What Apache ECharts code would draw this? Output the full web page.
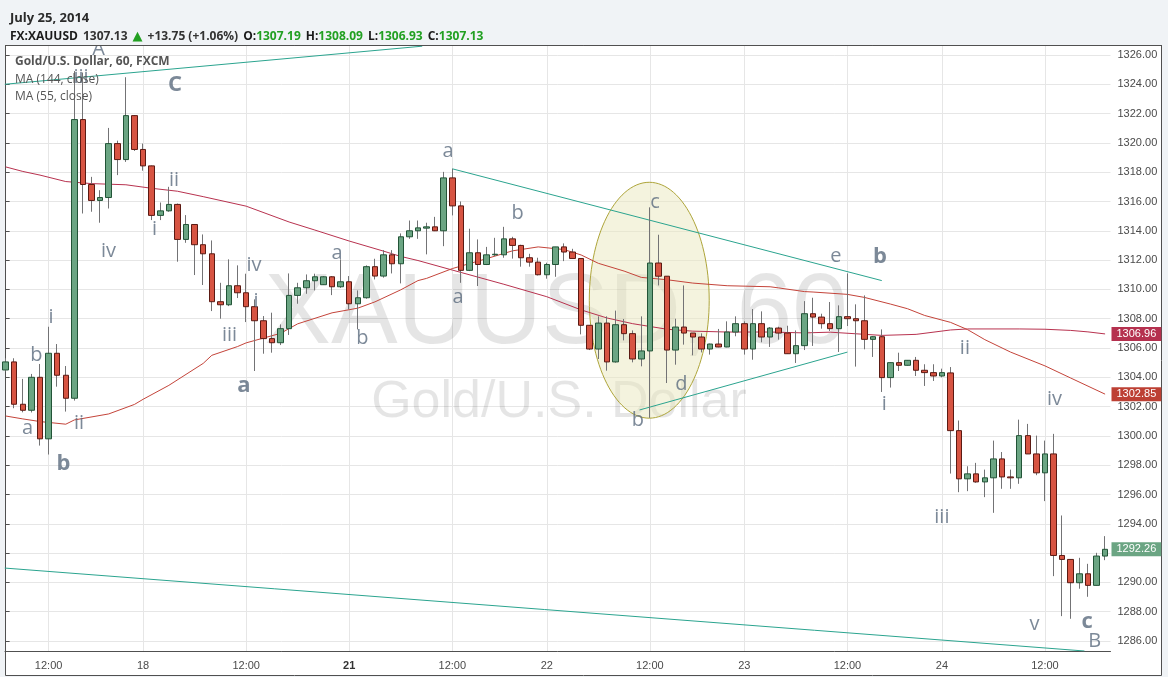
<!DOCTYPE html>
<html><head><meta charset="utf-8">
<script src="https://cdn.jsdelivr.net/npm/echarts@6/dist/echarts.min.js"></script>
<style>html,body{margin:0;padding:0;background:#f0f3f6;}#chart{width:1168px;height:677px;}</style>
</head><body><div id="chart"></div>
<script>
// ---- data (hourly candles, index 0..128) ----
const opens = [1304.50,1305.05,1302.16,1301.75,1304.00,1299.80,1305.64,1304.14,1302.57,1321.59,
1317.16,1316.07,1316.27,1319.95,1318.86,1321.86,1319.55,1318.43,1315.05,1315.36,
1315.80,1313.41,1314.43,1313.05,1312.43,1309.16,1308.95,1310.25,1309.77,1308.82,
1307.86,1306.64,1306.36,1307.32,1309.59,1310.11,1310.59,1310.32,1310.86,1310.18,
1310.52,1309.02,1309.43,1311.55,1310.91,1312.36,1311.75,1313.59,1314.00,1314.18,
1314.27,1314.00,1317.61,1315.70,1311.30,1312.50,1311.70,1312.36,1312.36,1313.45,
1313.00,1312.16,1311.86,1311.00,1311.70,1312.90,1312.55,1312.11,1307.55,1305.93,
1307.70,1305.05,1307.59,1306.98,1305.25,1305.80,1311.80,1310.90,1305.86,1307.43,
1307.02,1306.75,1305.93,1306.27,1306.07,1307.09,1307.66,1305.93,1307.66,1306.75,
1307.36,1307.02,1305.61,1306.16,1308.34,1308.11,1307.66,1307.32,1308.14,1308.00,
1307.86,1306.59,1306.77,1303.98,1305.00,1304.82,1305.16,1304.48,1304.32,1304.09,
1304.30,1300.36,1297.07,1297.41,1296.86,1297.14,1298.43,1297.20,1297.14,1300.02,
1298.77,1297.48,1298.77,1291.84,1291.57,1289.98,1290.59,1289.80,1291.80];
const closes = [1305.05,1302.16,1301.75,1304.00,1299.80,1305.64,1304.14,1302.57,1321.59,1317.16,
1316.07,1316.27,1319.95,1318.86,1321.86,1319.55,1318.43,1315.05,1315.36,1315.80,
1313.41,1314.43,1313.05,1312.43,1309.16,1308.95,1310.25,1309.77,1308.82,1307.86,
1306.64,1306.36,1307.32,1309.59,1310.11,1310.59,1310.86,1310.86,1310.18,1310.52,
1309.02,1309.43,1311.55,1310.91,1312.36,1311.75,1313.59,1314.00,1314.20,1314.27,
1314.00,1317.61,1315.70,1311.30,1312.50,1311.70,1312.36,1312.40,1313.45,1313.00,
1312.16,1311.86,1311.00,1311.70,1312.90,1312.55,1312.11,1307.55,1305.93,1307.70,
1305.05,1307.59,1306.98,1305.25,1305.80,1311.80,1310.90,1305.86,1307.43,1307.02,
1306.75,1305.93,1306.27,1306.07,1307.09,1307.66,1305.93,1307.66,1306.75,1307.36,
1307.02,1305.61,1306.16,1308.34,1308.11,1307.66,1307.32,1308.14,1308.00,1307.86,
1306.59,1306.77,1303.98,1305.00,1304.82,1305.16,1304.48,1304.32,1304.09,1304.32,
1300.36,1297.07,1297.41,1296.86,1297.14,1298.43,1297.20,1297.14,1300.02,1298.77,
1297.48,1298.77,1291.84,1291.57,1289.98,1290.59,1289.80,1291.80,1292.26];
const lows = [1304.40,1301.89,1301.61,1301.60,1299.34,1298.73,1303.36,1301.66,1302.41,1315.18,
1315.30,1314.55,1315.52,1317.80,1318.70,1319.45,1318.10,1314.73,1314.73,1315.30,
1311.89,1313.18,1310.98,1310.30,1308.52,1308.00,1308.86,1309.41,1307.77,1304.43,
1305.61,1305.68,1306.20,1306.89,1309.02,1309.70,1309.93,1310.30,1309.61,1310.10,
1308.64,1307.27,1309.36,1310.68,1310.80,1311.09,1310.41,1313.45,1313.45,1312.39,
1313.98,1312.95,1315.05,1310.45,1311.25,1310.23,1311.66,1312.27,1312.16,1312.10,
1311.55,1311.55,1310.95,1310.73,1310.86,1311.93,1312.11,1306.93,1305.86,1305.25,
1304.45,1305.00,1306.52,1305.02,1304.75,1301.23,1310.27,1303.61,1304.86,1306.23,
1305.50,1305.70,1305.55,1306.05,1306.05,1306.80,1305.55,1305.20,1306.39,1306.07,
1306.57,1305.61,1304.98,1305.86,1306.14,1307.32,1307.16,1305.73,1307.50,1304.73,
1305.91,1305.39,1303.00,1303.30,1304.43,1304.80,1304.09,1303.41,1303.75,1304.00,
1297.43,1296.16,1296.23,1296.80,1295.82,1294.75,1296.39,1296.39,1296.73,1298.77,
1297.32,1295.55,1290.43,1287.70,1287.52,1289.57,1289.02,1289.80,1291.52];
const highs = [1305.30,1305.30,1303.89,1304.23,1304.91,1307.45,1306.27,1304.77,1324.90,1324.80,
1317.68,1316.77,1321.02,1320.15,1324.48,1321.90,1319.95,1318.45,1315.93,1317.00,
1315.86,1315.07,1314.45,1313.75,1313.34,1310.45,1312.05,1311.64,1311.07,1309.32,
1308.18,1308.41,1307.61,1311.09,1310.45,1311.02,1311.07,1310.90,1310.90,1312.05,
1310.91,1309.93,1311.64,1312.09,1312.68,1312.68,1313.82,1314.70,1314.70,1314.55,
1314.95,1318.02,1318.23,1316.00,1314.14,1313.41,1312.90,1313.52,1314.27,1313.59,
1313.05,1312.43,1312.16,1311.82,1312.90,1313.14,1312.77,1312.11,1307.55,1308.16,
1308.16,1308.55,1307.98,1307.20,1308.16,1315.60,1313.73,1310.90,1308.00,1310.27,
1307.02,1307.00,1306.30,1307.30,1307.82,1308.16,1307.82,1308.66,1308.50,1307.43,
1307.45,1307.52,1307.20,1309.20,1309.43,1308.34,1309.14,1308.91,1311.09,1308.98,
1309.59,1306.80,1307.27,1305.02,1305.68,1305.18,1305.39,1304.89,1304.89,1304.59,
1304.70,1301.05,1297.93,1298.16,1297.70,1299.68,1298.90,1297.70,1301.11,1300.82,
1300.02,1299.68,1300.14,1294.57,1291.57,1291.68,1291.27,1292.02,1293.16];

// moving averages: [candle index, value]
const ma144 = [[0,1318.36],[2,1318.05],[4,1317.80],[7,1317.36],[10,1317.22],[14,1317.14],[17,1316.90],[20,1316.70],[23,1316.33],
[28,1315.68],[33,1314.60],[36,1314.05],[40,1313.30],[44,1312.61],[46,1312.25],[48,1311.97],[52,1311.32],[58,1310.35],
[63,1309.50],[67,1308.60],[70,1308.05],[73,1307.66],[77,1307.28],[80,1307.15],[84,1307.09],[89,1307.09],[93,1307.03],
[96,1307.08],[102,1306.86],[106,1306.93],[110,1307.23],[112,1307.30],[118,1307.30],[121,1307.28],[124,1307.20],[126,1307.10],[128,1306.96]];
const ma55 = [[0,1301.36],[2,1301.16],[4,1300.98],[7,1300.80],[8,1301.09],[12,1301.50],[15,1302.15],[16,1302.50],[19,1303.45],
[23,1304.95],[24,1305.50],[27,1306.10],[28,1306.35],[32,1307.00],[34,1307.65],[38,1308.40],[41,1308.72],[43,1309.15],[46,1309.97],
[48,1310.60],[49,1310.75],[52,1311.42],[56,1312.10],[59,1312.63],[62,1312.90],[65,1312.72],[67,1312.35],[69,1311.78],[72,1311.25],
[74,1310.82],[77,1310.66],[80,1310.43],[84,1310.25],[89,1310.18],[90,1310.10],[93,1309.85],[94,1309.82],[98,1309.66],[100,1309.45],
[103,1309.00],[105,1308.68],[107,1308.22],[110,1307.75],[112,1307.25],[114,1306.57],[117,1305.72],[121,1304.78],[124,1303.95],[128,1302.85]];

// axis ticks
const timeTickIdx = [5,16,28,40,52,63,75,86,98,109,121];
const timeTickLabels = ['12:00','18','12:00','21','12:00','22','12:00','23','12:00','24','12:00'];
const priceTicks = [1286,1288,1290,1292,1294,1296,1298,1300,1302,1304,1306,1308,1310,1312,1314,1316,1318,1320,1322,1324,1326];

// drawn annotations (data coordinates: candle index, price)
const trendTop = [[-0.1,1324.00],[48.5,1326.60]];
const trendBottom = [[-0.1,1290.98],[125.6,1285.32]];
const trendUpper = [[52,1318.23],[102,1310.60]];
const trendLower = [[73.8,1301.77],[98,1305.72]];
const ellipseZone = [74.93,1309.26,6.98,8.05]; // centre index, centre price, radius (candles), radius (price)
const waveLabels = [[10.81,1326.41,'A'],[8.77,1324.5,'iii'],[19.6,1317.43,'ii'],[17.33,1314.09,'i'],[11.97,1312.59,'iv'],
[5.28,1308.08,'i'],[3.59,1305.52,'b'],[2.54,1300.54,'a'],[8.54,1300.88,'ii'],[28.91,1311.67,'iv'],[29.15,1309.21,'i'],
[26.06,1306.89,'iii'],[38.57,1312.45,'a'],[41.54,1306.65,'b'],[51.5,1319.41,'a'],[59.6,1315.18,'b'],[52.66,1309.45,'a'],
[75.6,1315.93,'c'],[78.68,1303.51,'d'],[73.61,1301.05,'b'],[96.67,1312.25,'e'],[102.3,1302.18,'i'],[111.68,1306.0,'ii'],
[109.0,1294.43,'iii'],[122.1,1302.48,'iv'],[119.77,1287.16,'v'],[126.8,1285.97,'B']];
const waveLabelsBold = [[19.72,1323.99,'C'],[6.73,1298.08,'b'],[27.75,1303.44,'a'],[101.8,1312.25,'b'],[125.9,1287.33,'c']];

// header quote
const quoteDate = 'July 25, 2014';
const quoteSymbol = 'FX:XAUUSD';
const quoteLast = '1307.13';
const quoteChange = '+13.75 (+1.06%)';
const quoteOHLC = [['O:','1307.19'],['H:','1308.09'],['L:','1306.93'],['C:','1307.13']];

// ---- build ----
const UP = '#6ba583', DOWN = '#d75442';
const wickData = opens.map((o,i)=>[i,o,closes[i],lows[i],highs[i]]);
const bodyData = opens.map((o,i)=>[i,o,closes[i],Math.min(o,closes[i]),Math.max(o,closes[i])]);
const lastClose = closes[closes.length-1];
const ma144Last = ma144[ma144.length-1][1];
const ma55Last = ma55[ma55.length-1][1];

const chart = echarts.init(document.getElementById('chart'), null, {renderer:'canvas'});

const tagLabel = (bg) => ({show:true, position:'end', distance:1, color:'#fff', backgroundColor:bg, opacity:1,
  padding:[2,5,1,5], fontSize:11, fontFamily:'Liberation Sans', formatter:(p)=>Number(p.value).toFixed(2)});

const trendSeries = [trendTop,trendBottom,trendUpper,trendLower].map(d=>({
  type:'line', data:d, showSymbol:false, symbol:'none', silent:true, z:3,
  lineStyle:{color:'#2ba48f', width:1}, animation:false
}));

const labelSeries = (arr, bold) => ({
  type:'scatter', data: arr.map(l=>({value:[l[0],l[1]], name:l[2]})),
  symbol:'circle', symbolSize:1, itemStyle:{color:'rgba(0,0,0,0)'}, silent:true, z:6, clip:false,
  label:{show:true, position:'inside', formatter:'{b}', color:'#5b6c7e',
    fontFamily:'Open Sans', fontSize: bold?22:20, fontWeight: bold?'bold':'normal'},
  labelLayout:{hideOverlap:false}
});

const ohlcText = quoteOHLC.map(q=>'{s|'+q[0]+'}{g|'+q[1]+'}').join(' ');

const option = {
  animation:false,
  backgroundColor:'#f0f3f6',
  textStyle:{fontFamily:'Liberation Sans'},
  title:{
    left:5, top:4, z:20,
    text:'{d|'+quoteDate+'}\n{s|'+quoteSymbol+'} {n|'+quoteLast+'} {t|▲} {n|'+quoteChange+'} '+ohlcText,
    textStyle:{rich:{
      d:{fontFamily:'Open Sans', fontSize:13, color:'#2a2a2a', lineHeight:18},
      s:{fontFamily:'Open Sans', fontSize:12, fontWeight:'bold', color:'#1b1b1b', lineHeight:20},
      n:{fontFamily:'Open Sans', fontSize:12, color:'#333', lineHeight:20},
      g:{fontFamily:'Open Sans', fontSize:12, color:'#22a022', lineHeight:20},
      t:{fontFamily:'DejaVu Sans', fontSize:13, color:'#22a022', lineHeight:20}
    }}
  },
  grid:{left:5, right:57.5, top:45, bottom:26, containLabel:false, outerBoundsMode:'none'},
  xAxis:{
    type:'value', min:-0.076, max:128.63,
    axisLine:{show:true, lineStyle:{color:'#505050'}},
    axisTick:{show:false, customValues:timeTickIdx},
    axisLabel:{customValues:timeTickIdx, color:'#4a4a4a', fontSize:11, margin:9,
      formatter:(v)=>{const i=timeTickIdx.indexOf(Math.round(v)); const t=timeTickLabels[i]; return t==='21'?'{b|21}':t;},
      rich:{b:{fontWeight:'bold', fontSize:11, color:'#333'}}},
    splitLine:{show:true, lineStyle:{color:'#e6e6e6', width:1}}
  },
  yAxis:{
    type:'value', position:'right', min:1285.32, max:1326.68,
    axisLine:{show:true, lineStyle:{color:'#505050'}},
    axisTick:{show:true, length:4, customValues:priceTicks, lineStyle:{color:'#505050'}},
    axisLabel:{customValues:priceTicks, color:'#4a4a4a', fontSize:11, margin:7, formatter:(v)=>v.toFixed(2)},
    splitLine:{show:true, lineStyle:{color:'#e6e6e6', width:1}}
  },
  graphic:{elements:[
    {type:'rect', z:-10, silent:true, shape:{x:5.5, y:45.5, width:1156, height:630}, style:{fill:'#ffffff', stroke:'#505050', lineWidth:1}},
    {type:'text', z:1, silent:true, style:{text:'XAUUSD, 60', x:556, y:315, align:'center', verticalAlign:'middle', font:'100px "Liberation Sans"', fill:'rgba(0,0,0,0.1)'}},
    {type:'text', z:1, silent:true, style:{text:'Gold/U.S. Dollar', x:559, y:403, align:'center', verticalAlign:'middle', font:'52px "Liberation Sans"', fill:'rgba(0,0,0,0.1)'}},
    {type:'rect', z:10, silent:true, shape:{x:0, y:0, width:1168, height:45}, style:{fill:'#f0f3f6'}},
    {type:'line', z:11, silent:true, shape:{x1:5, y1:45.5, x2:1162, y2:45.5}, style:{stroke:'#505050', lineWidth:1}},
    {type:'text', z:20, silent:true, style:{text:'Gold/U.S. Dollar, 60, FXCM', x:15, y:62, verticalAlign:'middle', font:'bold 12px "Open Sans"', fill:'#555'}},
    {type:'text', z:20, silent:true, style:{text:'MA (144, close)', x:15, y:80, verticalAlign:'middle', font:'12px "Open Sans"', fill:'#555'}},
    {type:'text', z:20, silent:true, style:{text:'MA (55, close)', x:15, y:97, verticalAlign:'middle', font:'12px "Open Sans"', fill:'#555'}}
  ]},
  series:[
    {type:'custom', z:1.5, silent:true, clip:false, data:[ellipseZone],
      renderItem:(params, api)=>{
        const c = api.coord([api.value(0), api.value(1)]);
        const s = api.size([api.value(2), api.value(3)]);
        const pts = [];
        for (let i=0;i<120;i++){const t=i/120*Math.PI*2; pts.push([c[0]+s[0]*Math.cos(t), c[1]+s[1]*Math.sin(t)]);}
        return {type:'polygon', shape:{points:pts}, style:{fill:'rgba(234,231,190,0.5)', stroke:'#aea53a', lineWidth:1}};
      }},
    {type:'line', name:'MA (144, close)', data:ma144, showSymbol:false, symbol:'none', silent:true, z:2, clip:false,
      lineStyle:{color:'#b8324f', width:1},
      markLine:{silent:true, symbol:['none','none'], lineStyle:{color:'rgba(0,0,0,0)', width:1, type:'solid'}, label:tagLabel('#b5314f'),
        data:[{yAxis:ma144Last}]}},
    {type:'line', name:'MA (55, close)', data:ma55, showSymbol:false, symbol:'none', silent:true, z:2, clip:false,
      lineStyle:{color:'#c4443a', width:1},
      markLine:{silent:true, symbol:['none','none'], lineStyle:{color:'rgba(0,0,0,0)', width:1, type:'solid'}, label:tagLabel('#bd4034'),
        data:[{yAxis:ma55Last}, {yAxis:lastClose, label:tagLabel(UP)}]}},
    ...trendSeries,
    {type:'candlestick', data:wickData, encode:{x:0, y:[1,2,3,4]}, barWidth:1, z:4, silent:true,
      itemStyle:{color:'#737375', color0:'#737375', borderColor:'#737375', borderColor0:'#737375', borderColorDoji:'#737375', borderWidth:1}},
    {type:'candlestick', data:bodyData, encode:{x:0, y:[1,2,3,4]}, barWidth:6, z:5, silent:true,
      itemStyle:{color:UP, color0:DOWN, borderColor:'#225437', borderColor0:'#5b1a13', borderColorDoji:'#225437', borderWidth:1}},
    labelSeries(waveLabels,false),
    labelSeries(waveLabelsBold,true)
  ]
};
chart.setOption(option);
</script></body></html>
